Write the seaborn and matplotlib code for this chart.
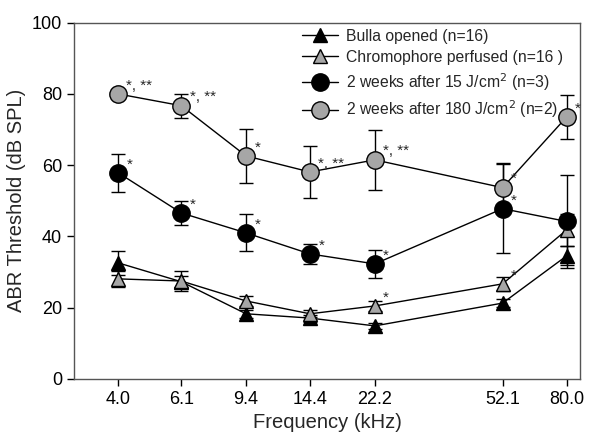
import numpy as np
import pandas as pd
import seaborn as sns
import matplotlib.pyplot as plt

# Data
freq = [4.0, 6.1, 9.4, 14.4, 22.2, 52.1, 80.0]
freq_labels = ['4.0', '6.1', '9.4', '14.4', '22.2', '52.1', '80.0']

bulla = [32.6, 27.3, 18.3, 17.1, 14.9, 21.3, 34.6]
bulla_err = [3.4, 1.5, 1.2, 1.0, 0.8, 1.2, 2.7]

chromo = [28.1, 27.5, 21.9, 18.3, 20.5, 26.7, 41.9]
chromo_err = [2.3, 2.8, 1.5, 1.0, 1.5, 2.0, 4.5]

w15 = [57.9, 46.6, 41.0, 35.1, 32.3, 47.8, 44.2]
w15_err = [5.3, 3.4, 5.2, 2.9, 3.9, 12.4, 13.0]

w180 = [80.0, 76.7, 62.6, 58.1, 61.5, 53.7, 73.6]
w180_err = [0.5, 3.4, 7.5, 7.2, 8.5, 6.8, 6.2]

labels = ['Bulla opened (n=16)', 'Chromophore perfused (n=16 )',
          '2 weeks after 15 J/cm$^2$ (n=3)', '2 weeks after 180 J/cm$^2$ (n=2)']

# significance marks: (series index, freq index, text)
stars = [
    (3, 0, '*, **'), (3, 1, '*, **'), (3, 2, '*'), (3, 3, '*, **'), (3, 4, '*, **'),
    (3, 5, '*'), (3, 6, '*'),
    (2, 0, '*'), (2, 1, '*'), (2, 2, '*'), (2, 3, '*'), (2, 4, '*'), (2, 5, '*'),
    (1, 4, '*'), (1, 5, '*'),
]

series = [bulla, chromo, w15, w180]
errs = [bulla_err, chromo_err, w15_err, w180_err]

df = pd.DataFrame({
    'freq': freq * 4,
    'thr': bulla + chromo + w15 + w180,
    'group': [l for l in labels for _ in freq],
})

sns.set_theme(style='ticks')
plt.rcParams['font.family'] = ['Liberation Sans', 'DejaVu Sans']

gray = '#a6a6a6'
fig = plt.figure(figsize=(5.89, 4.41), dpi=100)
ax = fig.add_axes([0.1256, 0.1406, 0.859, 0.808])

styles = [('^', 'black', 10), ('^', gray, 10), ('o', 'black', 12.5), ('o', gray, 12.5)]

for i, lab in enumerate(labels):
    m, c, ms = styles[i]
    ax.errorbar(freq, series[i], yerr=errs[i], fmt='none', ecolor='black',
                elinewidth=1, capsize=5, capthick=1, zorder=2)
    sns.lineplot(data=df[df['group'] == lab], x='freq', y='thr', ax=ax,
                 color='black', lw=1, marker=m, markersize=ms,
                 markerfacecolor=c, markeredgecolor='black', markeredgewidth=1,
                 label=lab, zorder=3)

for si, fi, txt in stars:
    ax.annotate(txt, (freq[fi], series[si][fi]), xytext=(6, 1),
                textcoords='offset points', fontsize=11, ha='left', va='bottom')

ax.set_xscale('log')
ax.set_xlim(2.98, 87.3)
ax.set_xticks(freq)
ax.set_xticklabels(freq_labels)
ax.minorticks_off()
ax.set_ylim(0, 100)
ax.set_yticks([0, 20, 40, 60, 80, 100])
ax.tick_params(labelsize=13, direction='out', length=5, width=1, colors='black')
ax.set_xlabel('Frequency (kHz)', fontsize=14.5)
ax.set_ylabel('ABR Threshold (dB SPL)', fontsize=14.5)
for s in ax.spines.values():
    s.set_visible(True)
    s.set_linewidth(1)
    s.set_color('#555555')

leg = ax.legend(loc='upper left', fontsize=11.3, frameon=False,
                handlelength=2.25, handletextpad=0.5, labelspacing=0.38,
                borderaxespad=0, bbox_to_anchor=(0.439, 1.0))

fig.savefig('out.png', dpi=100)
